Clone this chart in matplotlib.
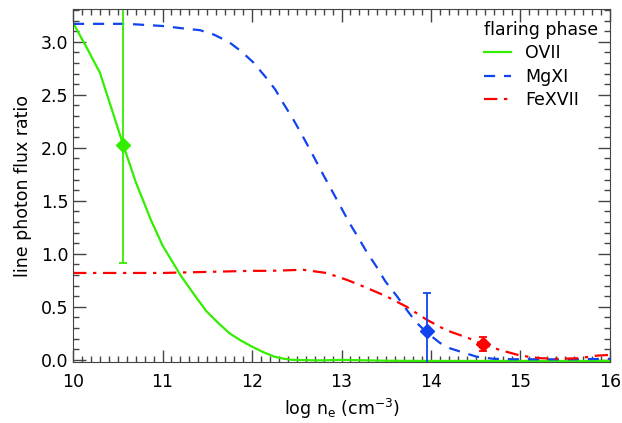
import matplotlib.pyplot as plt
from matplotlib.ticker import MultipleLocator

# model line ratios vs log electron density
ovii_logn = [10.0, 10.15, 10.3, 10.45, 10.56, 10.7, 10.87, 11.0, 11.2, 11.35, 11.49, 11.62, 11.75, 11.88, 12.0, 12.12, 12.25, 12.36, 12.46, 12.75, 13.0, 13.5, 14.0, 15.0, 16.0]
ovii_ratio = [3.18, 2.95, 2.71, 2.32, 2.03, 1.68, 1.32, 1.08, 0.80, 0.62, 0.46, 0.35, 0.25, 0.18, 0.125, 0.075, 0.03, 0.01, 0.0, -0.005, 0.0, -0.008, -0.01, -0.01, -0.01]

mgxi_logn = [10.0, 10.6, 11.0, 11.2, 11.42, 11.57, 11.74, 11.88, 12.01, 12.15, 12.26, 12.35, 12.46, 12.56, 12.65, 12.8, 12.91, 13.0, 13.09, 13.19, 13.28, 13.39, 13.49, 13.62, 13.73, 13.84, 13.95, 14.1, 14.21, 14.32, 14.51, 14.7, 14.92, 15.5, 16.0]
mgxi_ratio = [3.17, 3.17, 3.15, 3.13, 3.11, 3.07, 3.00, 2.91, 2.81, 2.67, 2.55, 2.42, 2.27, 2.12, 1.98, 1.74, 1.57, 1.43, 1.29, 1.15, 1.02, 0.88, 0.74, 0.60, 0.47, 0.35, 0.26, 0.16, 0.11, 0.08, 0.03, 0.01, 0.006, 0.005, 0.01]

fexvii_logn = [10.0, 11.0, 12.0, 12.2, 12.57, 12.83, 13.06, 13.28, 13.5, 13.73, 13.95, 14.17, 14.42, 14.6, 14.77, 15.0, 15.22, 15.44, 15.66, 15.85, 16.0]
fexvii_ratio = [0.82, 0.82, 0.84, 0.84, 0.85, 0.82, 0.755, 0.68, 0.60, 0.50, 0.38, 0.28, 0.205, 0.14, 0.094, 0.04, 0.016, 0.01, 0.016, 0.04, 0.047]

# observed ratios with errors
obs_logn = [10.56, 13.95, 14.58]
obs_ratio = [2.03, 0.27, 0.15]
obs_err_lo = [1.12, 0.36, 0.07]
obs_err_hi = [1.5, 0.36, 0.07]

labels = ['OVII', 'MgXI', 'FeXVII']
colors = ['#33ee00', '#1144ee', '#ff0000']

plt.rcParams['font.family'] = 'DejaVu Sans'
plt.rcParams['font.size'] = 12.5

fig = plt.figure(figsize=(6.22, 4.23), dpi=100)
ax = fig.add_axes([0.1174, 0.1442, 0.8633, 0.8345])

ax.plot(ovii_logn, ovii_ratio, color=colors[0], lw=1.6, label=labels[0])
ax.plot(mgxi_logn, mgxi_ratio, color=colors[1], lw=1.6, ls=(0, (5, 4)), label=labels[1])
ax.plot(fexvii_logn, fexvii_ratio, color=colors[2], lw=1.6, ls=(0, (6, 3, 1.5, 3)), label=labels[2])

for i in range(3):
    ax.errorbar(obs_logn[i], obs_ratio[i], yerr=[[obs_err_lo[i]], [obs_err_hi[i]]],
                fmt='D', color=colors[i], ms=7, capsize=3.2, elinewidth=1.3, capthick=1.3)

ax.set_xlim(10, 16)
ax.set_ylim(-0.02, 3.31)
ax.xaxis.set_major_locator(MultipleLocator(1))
ax.xaxis.set_minor_locator(MultipleLocator(0.1))
ax.yaxis.set_major_locator(MultipleLocator(0.5))
ax.yaxis.set_minor_locator(MultipleLocator(0.1))
ax.tick_params(which='both', direction='in', top=True, right=True, color='#444444')
ax.tick_params(which='major', length=9, width=1)
ax.tick_params(which='minor', length=4, width=1)
ax.tick_params(axis='x', pad=8)
for s in ax.spines.values():
    s.set_color('#444444')

ax.set_xlabel('log n$_\\mathrm{e}$ (cm$^{-3}$)')
ax.set_ylabel('line photon flux ratio', labelpad=6)

leg = ax.legend(title='flaring phase', loc='upper right', frameon=False,
                handlelength=1.6, borderaxespad=0.3, labelspacing=0.3)
leg._legend_box.align = 'left'

fig.savefig('out.png', dpi=100)
